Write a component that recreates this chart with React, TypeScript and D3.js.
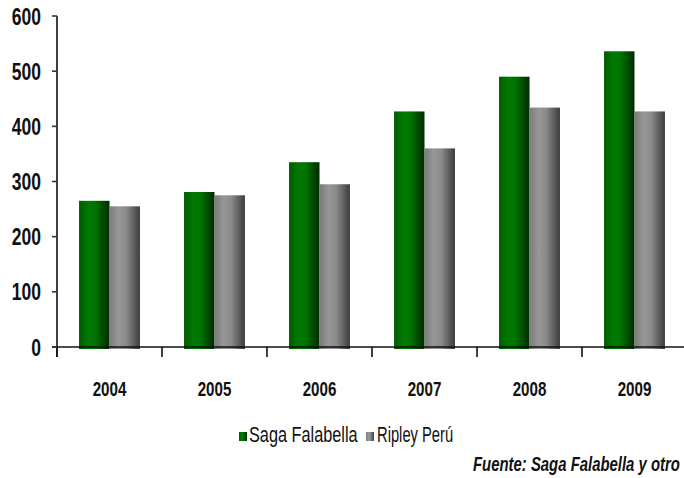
import React from "react";
import * as d3 from "d3";

const years = ["2004", "2005", "2006", "2007", "2008", "2009"];
const seriesNames = ["Saga Falabella", "Ripley Perú"];
const sagaValues = [265, 281, 335, 427, 490, 536];
const ripleyValues = [255, 275, 295, 360, 434, 427];
const yTicks = [0, 100, 200, 300, 400, 500, 600];
const sourceText = "Fuente: Saga Falabella y otro";

const W = 684;
const H = 478;
const font = "'Liberation Sans', Arial, sans-serif";

function NText(props: {
  x: number;
  y: number;
  sx: number;
  anchor?: string;
  size: number;
  bold?: boolean;
  italic?: boolean;
  children: React.ReactNode;
}) {
  return (
    <text
      transform={`translate(${props.x},${props.y}) scale(${props.sx},1)`}
      textAnchor={props.anchor || "start"}
      fontFamily={font}
      fontWeight={props.bold ? "bold" : "normal"}
      fontStyle={props.italic ? "italic" : "normal"}
      fontSize={props.size}
      fill="#111"
    >
      {props.children}
    </text>
  );
}

export default function App() {
  const x = d3.scaleBand<string>().domain(years).range([57, 687]).paddingInner(0).paddingOuter(0);
  const y = d3.scaleLinear().domain([0, 600]).range([347, 16]);
  const groupW = x.bandwidth() * 0.58;
  const x1 = d3.scaleBand<string>().domain(seriesNames).range([0, groupW]);
  const data = [sagaValues, ripleyValues];
  const fills = ["url(#gGreen)", "url(#gGray)"];

  return (
    <svg width={W} height={H} style={{ position: "absolute", left: 0, top: 0, background: "#fff" }}>
      <defs>
        <linearGradient id="gGreen" x1="0" x2="1" y1="0" y2="0">
          <stop offset="0" stopColor="#005a00" />
          <stop offset="0.3" stopColor="#007a00" />
          <stop offset="0.55" stopColor="#007200" />
          <stop offset="1" stopColor="#002a00" />
        </linearGradient>
        <linearGradient id="gGray" x1="0" x2="1" y1="0" y2="0">
          <stop offset="0" stopColor="#7a7a7a" />
          <stop offset="0.3" stopColor="#979797" />
          <stop offset="0.55" stopColor="#8a8a8a" />
          <stop offset="1" stopColor="#3c3c3c" />
        </linearGradient>
      </defs>

      {/* bars */}
      {years.map((yr, i) => {
        const gx = (x(yr) as number) + (x.bandwidth() - groupW) / 2;
        return (
          <g key={yr}>
            {seriesNames.map((s, j) => {
              const v = data[j][i];
              return (
                <rect
                  key={s}
                  x={gx + (x1(s) as number)}
                  y={y(v)}
                  width={x1.bandwidth()}
                  height={y(0) - y(v) + 2}
                  fill={fills[j]}
                />
              );
            })}
          </g>
        );
      })}

      {/* x axis line */}
      <line x1={52} x2={W} y1={y(0)} y2={y(0)} stroke="#111" strokeWidth={1.6} />
      {years.map((yr) => (
        <line key={yr} x1={x(yr) as number} x2={x(yr) as number} y1={y(0)} y2={y(0) + 10} stroke="#111" strokeWidth={1.6} />
      ))}
      {/* y axis */}
      <line x1={57} x2={57} y1={y(600)} y2={y(0) + 10} stroke="#111" strokeWidth={1.6} />
      {yTicks.map((t) => (
        <g key={t}>
          <line x1={52} x2={57} y1={y(t)} y2={y(t)} stroke="#333" strokeWidth={1.6} />
          <NText x={41} y={y(t) + 8.5} sx={0.73} anchor="end" size={24} bold>
            {t}
          </NText>
        </g>
      ))}

      {/* x labels */}
      {years.map((yr) => (
        <NText key={yr} x={(x(yr) as number) + x.bandwidth() / 2} y={396} sx={0.74} anchor="middle" size={20.5} bold>
          {yr}
        </NText>
      ))}

      {/* legend */}
      <rect x={239} y={432} width={8} height={9} fill="url(#gGreen)" />
      <NText x={249} y={442} sx={0.74} size={22}>
        {seriesNames[0]}
      </NText>
      <rect x={366} y={432} width={8} height={9} fill="url(#gGray)" />
      <NText x={377} y={442} sx={0.67} size={22}>
        {seriesNames[1]}
      </NText>

      {/* source */}
      <NText x={473} y={471} sx={0.745} size={20} bold italic>
        {sourceText}
      </NText>
    </svg>
  );
}
